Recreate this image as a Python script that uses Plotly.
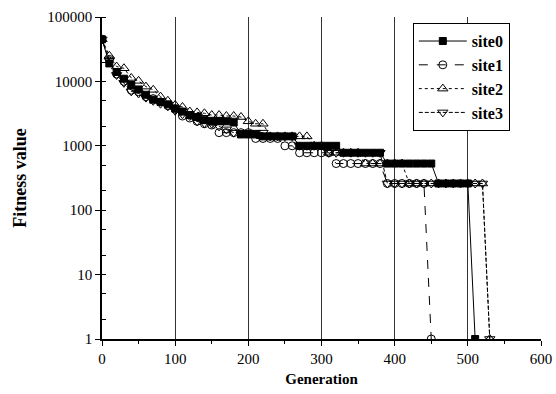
import plotly.graph_objects as go

generations = list(range(0, 540, 10))

site0 = [45000, 19000, 14000, 11000, 8800, 7500, 6200, 5200, 4800, 4400,
         3800, 3400, 3000, 2800, 2500, 2400, 2400, 2400, 2300, 1500,
         1500, 1500, 1400, 1400, 1400, 1400, 1400, 1000, 1000, 1000,
         1000, 1000, 1000, 780, 780, 780, 780, 780, 780, 530,
         530, 530, 530, 530, 530, 530, 260, 260, 260, 260,
         260, 1]

site1 = [45000, 22000, 13000, 10000, 7300, 6900, 5800, 5400, 4800, 4200,
         3700, 2900, 2700, 2400, 2200, 2100, 1600, 1600, 1600, 1600,
         1600, 1300, 1300, 1300, 1300, 1000, 1000, 780, 780, 780,
         780, 780, 530, 530, 530, 530, 530, 530, 530, 260,
         260, 260, 260, 260, 260, 1]

site2 = [45000, 25000, 17000, 16000, 11300, 10200, 8300, 7400, 5800, 5000,
         4300, 4000, 3400, 3300, 3200, 3000, 3000, 2900, 2900, 2800,
         2400, 2200, 2200, 1400, 1400, 1400, 1400, 1400, 1400, 1000,
         1000, 780, 780, 780, 780, 780, 530, 530, 530, 530,
         530, 530, 260, 260, 260, 260, 260, 260, 260, 260,
         260, 260, 260, 1]

site3 = [45000, 21000, 12600, 9500, 7000, 6500, 5600, 5000, 4500, 4100,
         3500, 3100, 2900, 2400, 2250, 2200, 2000, 1800, 1600, 1600,
         1600, 1600, 1600, 1400, 1400, 1400, 1400, 1000, 1000, 1000,
         1000, 780, 780, 780, 780, 780, 780, 780, 780, 260,
         260, 260, 260, 260, 260, 260, 260, 260, 260, 260,
         260, 260, 260, 1]

series = [
    ("site0", site0, "solid", "square", "black", 7),
    ("site1", site1, "dash", "circle-open", "black", 8),
    ("site2", site2, "dot", "triangle-up-open", "black", 9),
    ("site3", site3, "4px,2px", "triangle-down-open", "black", 9),
]

fig = go.Figure()
for name, vals, dash, sym, col, sz in series:
    fig.add_trace(go.Scatter(
        x=generations[:len(vals)], y=vals, name=name, mode="lines+markers",
        line=dict(color="black", width=1, dash=dash),
        marker=dict(symbol=sym, size=sz, color=col, line=dict(color="black", width=1)),
    ))

font_family = "Liberation Serif, Times New Roman, serif"
fig.update_layout(
    width=556, height=394,
    margin=dict(l=102, r=15, t=17, b=55),
    paper_bgcolor="white", plot_bgcolor="white",
    font=dict(family=font_family, size=15, color="black"),
    showlegend=True,
    legend=dict(x=0.708, y=0.981, xanchor="left", yanchor="top",
                bordercolor="black", borderwidth=1, bgcolor="white",
                font=dict(size=16, family=font_family, weight="bold"),
                tracegroupgap=0, itemwidth=48),
    xaxis=dict(range=[0, 600], dtick=100, tick0=0, automargin=False,
               showgrid=True, gridcolor="#333", gridwidth=1,
               showline=True, linecolor="black", linewidth=1.5,
               ticks="outside", ticklen=5, tickcolor="black",
               minor=dict(dtick=50, ticks="outside", ticklen=3, tickcolor="black", showgrid=False),
               zeroline=False,
               title=dict(text="<b>Generation</b>", font=dict(size=15), standoff=8)),
    yaxis=dict(type="log", range=[0, 5], automargin=False,
               tickvals=[1, 10, 100, 1000, 10000, 100000],
               ticktext=["1", "10", "100", "1000", "10000", "100000"],
               showgrid=False,
               showline=True, linecolor="black", linewidth=1.5,
               ticks="outside", ticklen=5, tickcolor="black",
               minor=dict(ticks="inside", ticklen=4, tickcolor="black", showgrid=False),
               zeroline=False,
               title=dict(text="<b>Fitness value</b>", font=dict(size=18), standoff=16)),
)

fig.write_html(
    "out.html",
    config={"displayModeBar": False},
    post_script="document.body.style.margin='0';document.body.style.overflow='hidden';",
)
